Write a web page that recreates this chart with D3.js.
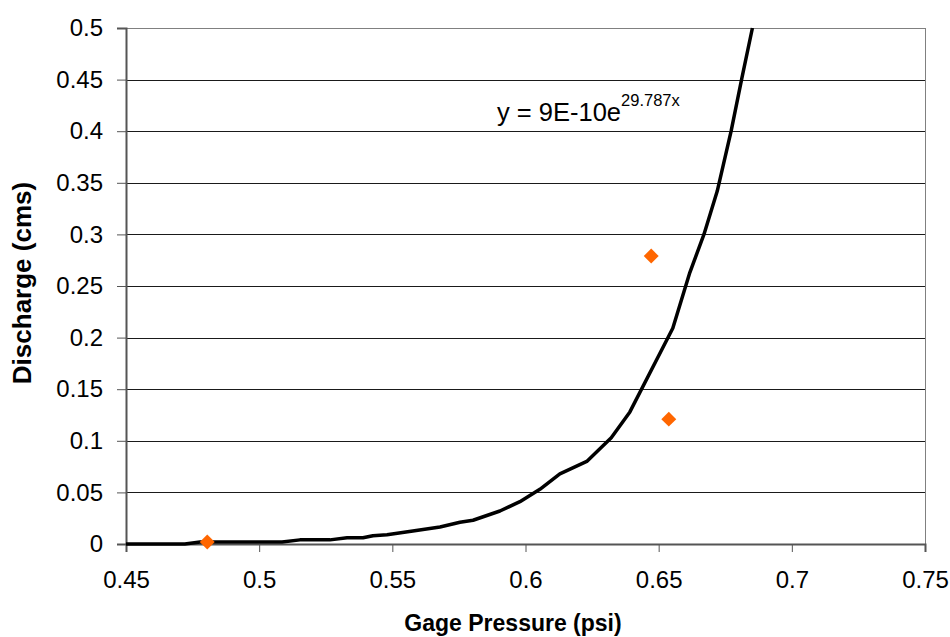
<!DOCTYPE html>
<html>
<head>
<meta charset="utf-8">
<script src="https://cdn.jsdelivr.net/npm/d3@7"></script>
<style>
  body { margin: 0; background: #fff; }
  text { font-family: "Liberation Sans", Arial, sans-serif; fill: #000; }
</style>
</head>
<body>
<script>
// measured points (gage pressure psi, discharge cms)
var pointX = [0.4805, 0.6472, 0.6538];
var pointY = [0.002, 0.279, 0.121];

// trendline as drawn
var trendX = [0.45, 0.4721, 0.4778, 0.5086, 0.5153, 0.5266, 0.533, 0.539, 0.5427, 0.548,
              0.5577, 0.5679, 0.5754, 0.5803, 0.5904, 0.5979, 0.6054, 0.6129, 0.623, 0.6322,
              0.6392, 0.6553, 0.6617, 0.667, 0.672, 0.6772, 0.6812, 0.6852];
var trendY = [0, 0, 0.002, 0.002, 0.004, 0.004, 0.006, 0.006, 0.008, 0.009,
              0.0126, 0.0165, 0.021, 0.023, 0.032, 0.041, 0.053, 0.068, 0.080, 0.103,
              0.128, 0.209, 0.263, 0.300, 0.342, 0.400, 0.451, 0.500];

var xTicks = [0.45, 0.5, 0.55, 0.6, 0.65, 0.7, 0.75];
var yTicks = [0, 0.05, 0.1, 0.15, 0.2, 0.25, 0.3, 0.35, 0.4, 0.45, 0.5];

var chart = {
  "width" : 950,
  "height" : 637,
  "left" : 126,
  "right" : 925,
  "top" : 28,
  "bottom" : 544
};

var svg = d3.select("body")
            .append("svg")
            .attr("width", chart.width)
            .attr("height", chart.height);

var x = d3.scaleLinear().domain([0.45, 0.75]).range([chart.left, chart.right]);
var y = d3.scaleLinear().domain([0, 0.5]).range([chart.bottom, chart.top]);

// gridlines
svg.append("g")
   .selectAll("line")
   .data(yTicks.slice(1))
   .enter()
   .append("line")
   .attr("x1", chart.left)
   .attr("x2", chart.right)
   .attr("y1", function(d) { return Math.round(y(d)) + 0.5; })
   .attr("y2", function(d) { return Math.round(y(d)) + 0.5; })
   .attr("stroke", function(d) { return d == 0.5 ? "#808080" : "#1a1a1a"; })
   .attr("stroke-width", 1);

// right border
svg.append("line")
   .attr("x1", chart.right + 0.5)
   .attr("x2", chart.right + 0.5)
   .attr("y1", chart.top)
   .attr("y2", chart.bottom)
   .attr("stroke", "#808080");

// y axis
var yAxis = svg.append("g")
   .attr("transform", "translate(" + chart.left + ",0)")
   .call(d3.axisLeft(y).tickValues(yTicks).tickSize(9).tickPadding(14)
           .tickFormat(function(d) { return String(d); }));
yAxis.select(".domain").attr("stroke", "#555").attr("stroke-width", 2);
yAxis.selectAll(".tick line").attr("stroke", "#555");
yAxis.selectAll("text").style("font-size", "24px").attr("fill", "#000");

// x axis
var xAxis = svg.append("g")
   .attr("transform", "translate(0," + chart.bottom + ")")
   .call(d3.axisBottom(x).tickValues(xTicks).tickSize(8).tickPadding(19)
           .tickFormat(function(d) { return String(d); }));
xAxis.select(".domain").attr("stroke", "#555").attr("stroke-width", 2);
xAxis.selectAll(".tick line").attr("stroke", "#555");
xAxis.selectAll("text").style("font-size", "24px").attr("fill", "#000");

// trendline
var line = d3.line()
   .x(function(d) { return x(d[0]); })
   .y(function(d) { return y(d[1]); });

svg.append("path")
   .datum(d3.zip(trendX, trendY))
   .attr("d", line)
   .attr("fill", "none")
   .attr("stroke", "#000")
   .attr("stroke-width", 3.5)
   .attr("stroke-linejoin", "round");

// data points, square turned 45 degrees
svg.append("g")
   .selectAll("path")
   .data(d3.zip(pointX, pointY))
   .enter()
   .append("path")
   .attr("d", d3.symbol().type(d3.symbolSquare).size(112))
   .attr("transform", function(d) { return "translate(" + x(d[0]) + "," + y(d[1]) + ") rotate(45)"; })
   .attr("fill", "#ff6600");

// equation
var eq = svg.append("text")
   .attr("x", 497)
   .attr("y", 121)
   .style("font-size", "25.5px");
eq.append("tspan").text("y = 9E-10e");
eq.append("tspan").attr("dy", -15).style("font-size", "16.5px").text("29.787x");

// axis titles
svg.append("text")
   .attr("x", 513)
   .attr("y", 631)
   .attr("text-anchor", "middle")
   .style("font-size", "23px")
   .style("font-weight", "bold")
   .text("Gage Pressure (psi)");

svg.append("text")
   .attr("transform", "translate(31,283) rotate(-90)")
   .attr("text-anchor", "middle")
   .style("font-size", "26px")
   .style("font-weight", "bold")
   .text("Discharge (cms)");
</script>
</body>
</html>
